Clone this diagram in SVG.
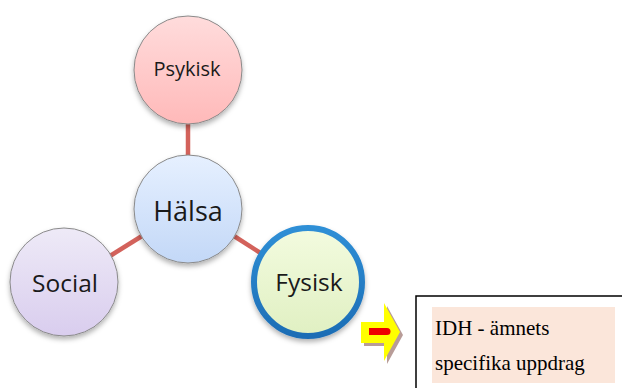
<svg xmlns="http://www.w3.org/2000/svg" width="622" height="388" viewBox="0 0 622 388">
<defs>
<linearGradient id="gPink" x1="0" y1="0" x2="0" y2="1"><stop offset="0" stop-color="#ffdcdc"/><stop offset="1" stop-color="#ffb9b9"/></linearGradient>
<linearGradient id="gBlue" x1="0" y1="0" x2="0" y2="1"><stop offset="0" stop-color="#e6f0ff"/><stop offset="1" stop-color="#c3d8f7"/></linearGradient>
<linearGradient id="gLav" x1="0" y1="0" x2="0" y2="1"><stop offset="0" stop-color="#eeeaf7"/><stop offset="1" stop-color="#d9cdee"/></linearGradient>
<linearGradient id="gGreen" x1="0" y1="0" x2="0" y2="1"><stop offset="0" stop-color="#f3fbdf"/><stop offset="1" stop-color="#e0f0c2"/></linearGradient>
<linearGradient id="gRing" x1="0" y1="0" x2="0" y2="1"><stop offset="0" stop-color="#2f8fd6"/><stop offset="1" stop-color="#1c6db5"/></linearGradient>
<filter id="sh" x="-20%" y="-20%" width="140%" height="150%"><feDropShadow dx="0" dy="3" stdDeviation="2.5" flood-color="#000" flood-opacity="0.3"/></filter>
</defs>
<style>
.node{stroke:#8a8a8a;stroke-width:1;filter:url(#sh)}
.lbl{font-family:"Open Sans","Noto Sans",sans-serif;fill:#1a1a1a;text-anchor:middle}
.conn{stroke:#d3625b;stroke-width:4.5}
.serif{font-family:"Liberation Serif","Times New Roman",serif;font-size:21px;fill:#000}
</style>
<g id="connectors">
<line class="conn" x1="188" y1="120" x2="188" y2="158"/>
<line class="conn" x1="142" y1="236" x2="110" y2="256"/>
<line class="conn" x1="234" y1="236" x2="262" y2="254"/>
</g>
<g id="psykisk">
<circle class="node" cx="188" cy="70" r="54" fill="url(#gPink)"/>
<text class="lbl" x="187" y="76" font-size="20">Psykisk</text>
</g>
<g id="halsa">
<circle class="node" cx="188" cy="209" r="54" fill="url(#gBlue)"/>
<text class="lbl" x="188" y="221" font-size="27">Hälsa</text>
</g>
<g id="social">
<circle class="node" cx="64" cy="282" r="54" fill="url(#gLav)"/>
<text class="lbl" x="65" y="292" font-size="24.5">Social</text>
</g>
<g id="fysisk">
<circle cx="308" cy="282" r="54" fill="url(#gGreen)" stroke="url(#gRing)" stroke-width="6" filter="url(#sh)"/>
<text class="lbl" x="309" y="291" font-size="24.5">Fysisk</text>
</g>
<g id="arrow">
<polygon points="364,325 387,325 387,306 403,335 387,364 387,346 364,346" fill="#b89c98"/>
<polygon points="361,322 384,322 384,303 400,332 384,361 384,343 361,343" fill="#ffff00"/>
<path d="M369,328 H387 A3.5,3.5 0 0 1 387,335 H369 Z" fill="#ee0000"/>
</g>
<g id="idh">
<path d="M416,388 V296 H622" fill="none" stroke="#000" stroke-width="1.5"/>
<rect x="432" y="307" width="183" height="76" fill="#fbe6da"/>
<text class="serif" x="435" y="335">IDH - ämnets</text>
<text class="serif" x="435" y="370">specifika uppdrag</text>
</g>
</svg>
